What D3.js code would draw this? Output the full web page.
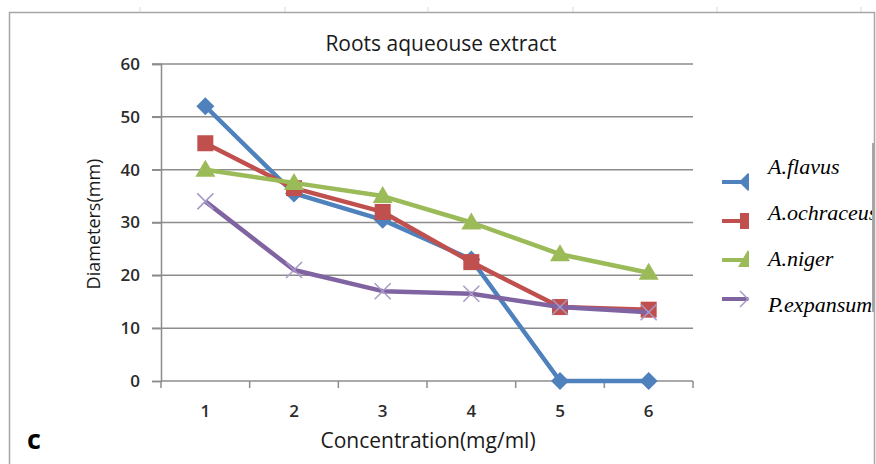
<!DOCTYPE html>
<html>
<head>
<meta charset="utf-8">
<script src="https://cdn.jsdelivr.net/npm/d3@7"></script>
<style>
  html, body { margin: 0; padding: 0; background: #fff; }
  svg { display: block; }
</style>
</head>
<body>
<svg id="chart" width="876" height="464"></svg>
<script>
// Concentrations (mg/ml) and inhibition-zone diameters (mm) per fungus
const concentrations = [1, 2, 3, 4, 5, 6];
const flavus     = [52, 35.5, 30.5, 23, 0, 0];
const ochraceus  = [45, 36.5, 32, 22.5, 14, 13.5];
const niger      = [40, 37.5, 35, 30, 24, 20.5];
const expansum   = [34, 21, 17, 16.5, 14, 13];
const seriesNames = ["A.flavus", "A.ochraceus", "A.niger", "P.expansum"];
const yTicks = [0, 10, 20, 30, 40, 50, 60];

const seriesValues = [flavus, ochraceus, niger, expansum];
const colors = ["#4F81BD", "#C0504D", "#9BBB59", "#8064A2"];
const shapes = ["diamond", "square", "triangle", "cross"];

const svg = d3.select("#chart");
const sans = "'Open Sans', 'DejaVu Sans', sans-serif";

// outer frame
svg.append("rect")
  .attr("x", 9.5).attr("y", 12.5)
  .attr("width", 865).attr("height", 470)
  .attr("fill", "none").attr("stroke", "#a6a6a6").attr("stroke-width", 1.5);

// small ruler marks above the frame
[140, 285, 428, 573, 717, 861].forEach(x => {
  svg.append("line").attr("x1", x).attr("x2", x).attr("y1", 7).attr("y2", 12)
    .attr("stroke", "#d9d9d9").attr("stroke-width", 1);
});

const x = d3.scaleBand().domain(concentrations).range([161, 693]);
const y = d3.scaleLinear().domain([0, 60]).range([381, 64]);

// horizontal gridlines with left tick stubs
svg.append("g").selectAll("line").data(yTicks.slice(1)).join("line")
  .attr("x1", 152).attr("x2", 693)
  .attr("y1", d => y(d)).attr("y2", d => y(d))
  .attr("stroke", "#8c8c8c").attr("stroke-width", 1.5);

// y axis
const yAxis = d3.axisLeft(y).tickValues(yTicks).tickSize(9).tickPadding(12);
const gy = svg.append("g").attr("transform", "translate(161,0)").call(yAxis);
gy.select(".domain").attr("stroke", "#8c8c8c").attr("stroke-width", 1.5);
gy.selectAll(".tick line").attr("stroke", "#8c8c8c").attr("stroke-width", 1.5);
gy.selectAll(".tick text")
  .attr("font-family", sans).attr("font-size", 17).attr("font-weight", 600)
  .attr("fill", "#2b2b2b");

// x axis: ticks sit between categories, labels centred under them
const gx = svg.append("g").attr("transform", "translate(0,381)");
gx.append("line").attr("x1", 161).attr("x2", 693).attr("y1", 0).attr("y2", 0)
  .attr("stroke", "#8c8c8c").attr("stroke-width", 1.5);
const boundaries = concentrations.map(c => x(c)).concat([x(concentrations[5]) + x.bandwidth()]);
gx.selectAll("line.t").data(boundaries).join("line").attr("class", "t")
  .attr("x1", d => d).attr("x2", d => d).attr("y1", 0).attr("y2", 7)
  .attr("stroke", "#8c8c8c").attr("stroke-width", 1.5);
gx.selectAll("text").data(concentrations).join("text")
  .attr("x", d => x(d) + x.bandwidth() / 2).attr("y", 36)
  .attr("text-anchor", "middle")
  .attr("font-family", sans).attr("font-size", 17).attr("font-weight", 600)
  .attr("fill", "#2b2b2b").text(d => d);

// titles
svg.append("text").attr("x", 441).attr("y", 51).attr("text-anchor", "middle")
  .attr("font-family", sans).attr("font-size", 21).attr("fill", "#1a1a1a")
  .text("Roots aqueouse extract");
svg.append("text").attr("x", 428).attr("y", 448).attr("text-anchor", "middle")
  .attr("font-family", sans).attr("font-size", 21).attr("fill", "#1a1a1a")
  .text("Concentration(mg/ml)");
svg.append("text").attr("transform", "translate(100,224) rotate(-90)")
  .attr("text-anchor", "middle")
  .attr("font-family", sans).attr("font-size", 18).attr("fill", "#1a1a1a")
  .text("Diameters(mm)");
svg.append("text").attr("x", 27).attr("y", 449)
  .attr("font-family", sans).attr("font-size", 27).attr("font-weight", 700)
  .attr("fill", "#000").text("c");

// marker drawing helper
function marker(g, shape, color, cx, cy) {
  if (shape === "diamond") {
    g.append("path").attr("d", `M${cx},${cy - 9}L${cx + 9},${cy}L${cx},${cy + 9}L${cx - 9},${cy}Z`)
      .attr("fill", color);
  } else if (shape === "square") {
    g.append("rect").attr("x", cx - 8).attr("y", cy - 8).attr("width", 16).attr("height", 16)
      .attr("fill", color);
  } else if (shape === "triangle") {
    g.append("path").attr("d", `M${cx},${cy - 10}L${cx + 10},${cy + 7}L${cx - 10},${cy + 7}Z`)
      .attr("fill", color);
  } else {
    g.append("path").attr("d", `M${cx - 8},${cy - 8}L${cx + 8},${cy + 8}M${cx - 8},${cy + 8}L${cx + 8},${cy - 8}`)
      .attr("stroke", "#a899c8").attr("stroke-width", 1.5).attr("fill", "none");
  }
}

// series: line then markers, in legend order
const line = d3.line()
  .x((d, i) => x(concentrations[i]) + x.bandwidth() / 2)
  .y(d => y(d));
seriesValues.forEach((vals, s) => {
  const g = svg.append("g");
  g.append("path").datum(vals).attr("d", line)
    .attr("fill", "none").attr("stroke", colors[s]).attr("stroke-width", 4.5)
    .attr("stroke-linejoin", "round");
  vals.forEach((v, i) => marker(g, shapes[s], colors[s], x(concentrations[i]) + x.bandwidth() / 2, y(v)));
});

// legend
svg.append("clipPath").attr("id", "legclip").append("rect")
  .attr("x", 700).attr("y", 140).attr("width", 49).attr("height", 180);
svg.append("clipPath").attr("id", "legtextclip").append("rect")
  .attr("x", 750).attr("y", 140).attr("width", 122).attr("height", 180);
const legLineY = [182, 221, 260, 299];
const legTextY = [166, 212, 258, 304];
const legText = svg.append("g").attr("clip-path", "url(#legtextclip)");
seriesNames.forEach((name, s) => {
  const g = svg.append("g").attr("clip-path", "url(#legclip)");
  g.append("line").attr("x1", 722).attr("x2", 748).attr("y1", legLineY[s]).attr("y2", legLineY[s])
    .attr("stroke", colors[s]).attr("stroke-width", 4);
  marker(g, shapes[s], colors[s], 748, legLineY[s]);
  legText.append("text").attr("x", 768).attr("y", legTextY[s]).attr("dy", "0.35em")
    .attr("font-family", "'Liberation Serif', 'DejaVu Serif', serif")
    .attr("font-style", "italic").attr("font-size", 22).attr("fill", "#000")
    .text(name);
});
// legend box edge
svg.append("line").attr("x1", 873).attr("x2", 873).attr("y1", 143).attr("y2", 312)
  .attr("stroke", "#8c8c8c").attr("stroke-width", 1.5);
</script>
</body>
</html>
